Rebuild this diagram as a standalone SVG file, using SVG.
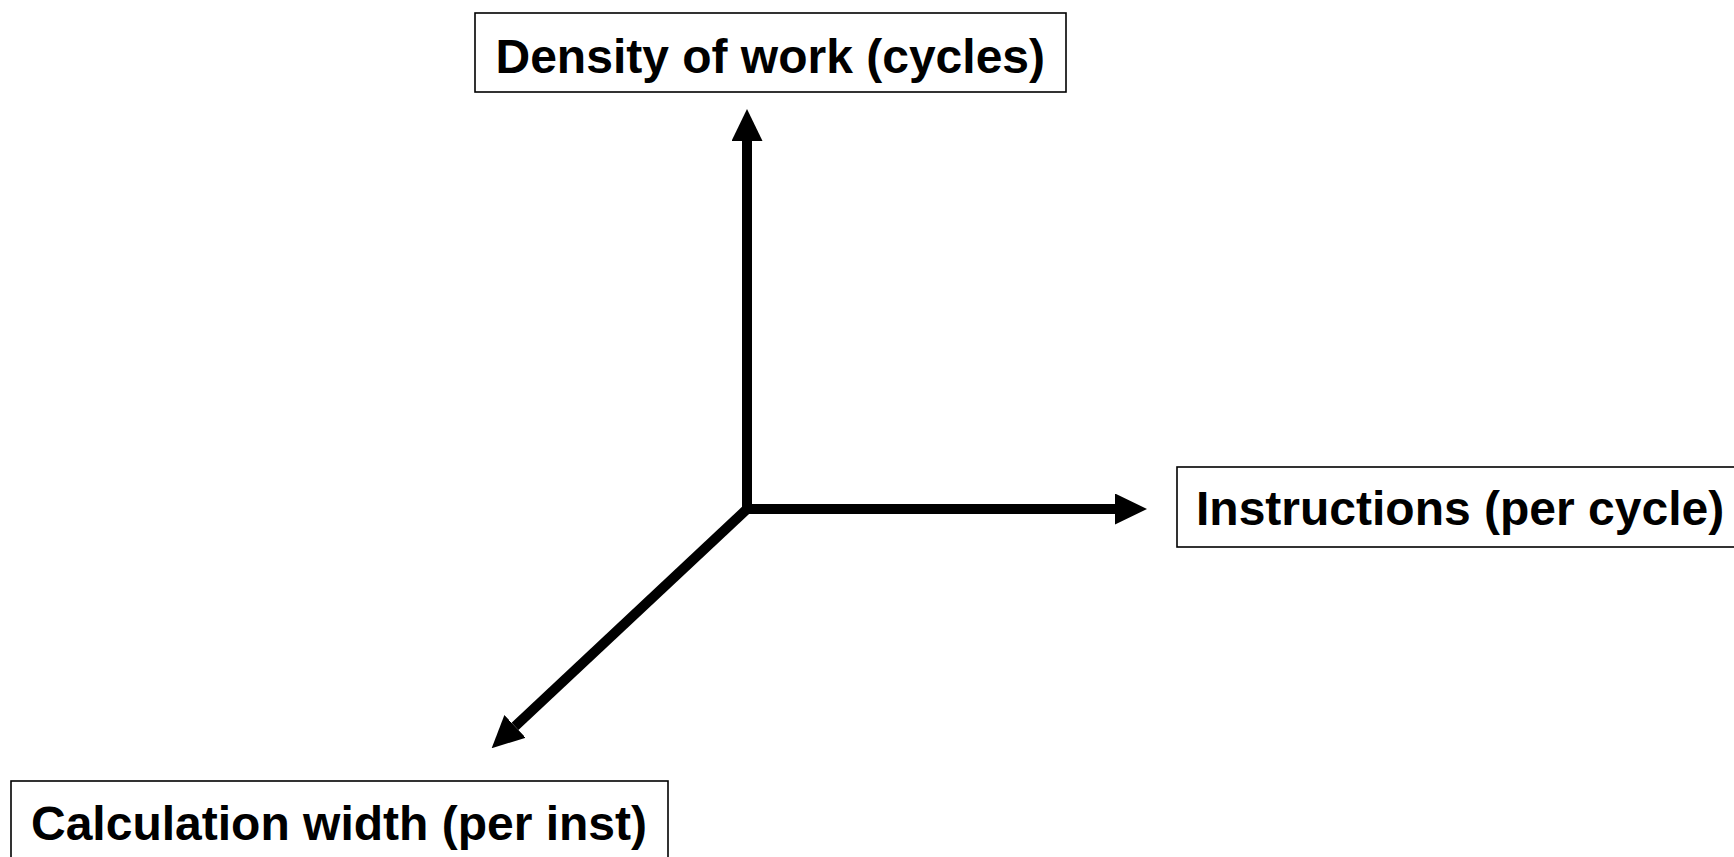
<svg xmlns="http://www.w3.org/2000/svg" width="1734" height="857" viewBox="0 0 1734 857">
  <style>
    .box { fill: #ffffff; stroke: #000000; stroke-width: 1.6; }
    .lbl { font-family: "Liberation Sans", Arial, sans-serif; font-weight: bold; font-size: 48px; fill: #000000; }
    .axis { stroke: #000000; stroke-width: 10; fill: none; }
  </style>
  <defs>
    <marker id="head" markerUnits="userSpaceOnUse" markerWidth="32" markerHeight="31" refX="0" refY="15.5" orient="auto" viewBox="0 0 32 31">
      <path d="M0,0 L32,15.5 L0,31 Z" fill="#000000"/>
    </marker>
  </defs>
  <rect width="1734" height="857" fill="#ffffff"/>
  <g id="connectors">
    <line class="axis" x1="747" y1="514" x2="747" y2="141" marker-end="url(#head)"/>
    <line class="axis" x1="742" y1="509" x2="1115" y2="509" marker-end="url(#head)"/>
    <line class="axis" x1="747" y1="509" x2="515" y2="726.4" marker-end="url(#head)"/>
  </g>
  <g id="node-density">
    <rect class="box" x="475" y="13" width="591" height="79"/>
    <text class="lbl" x="495.5" y="73">Density of work (cycles)</text>
  </g>
  <g id="node-instructions">
    <rect class="box" x="1177" y="467" width="570" height="80"/>
    <text class="lbl" x="1196" y="525">Instructions (per cycle)</text>
  </g>
  <g id="node-calculation">
    <rect class="box" x="11" y="781" width="657" height="90"/>
    <text class="lbl" x="31" y="840">Calculation width (per inst)</text>
  </g>
</svg>
